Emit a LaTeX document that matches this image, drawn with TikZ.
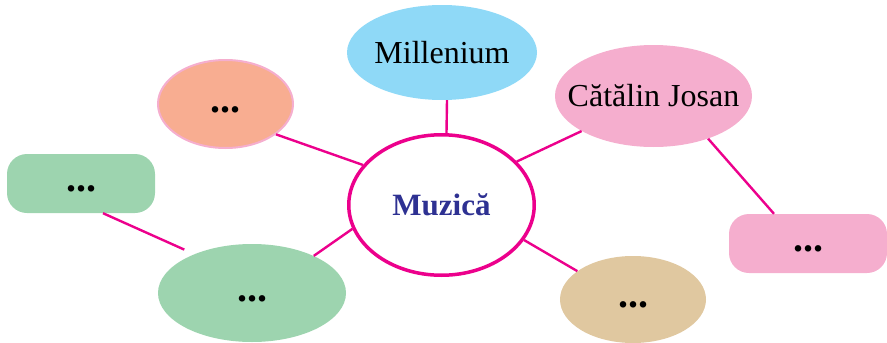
\documentclass[tikz,border=0pt]{standalone}
\usepackage{fontspec}
\setmainfont{Liberation Serif}
\usetikzlibrary{shapes.geometric}

\definecolor{linkmag}{HTML}{EC008C}
\definecolor{titleblue}{HTML}{2E3192}
\definecolor{skyfill}{HTML}{8FD9F7}
\definecolor{pinkfill}{HTML}{F5AECE}
\definecolor{orafill}{HTML}{F8AD91}
\definecolor{greenfill}{HTML}{9DD4AF}
\definecolor{tanfill}{HTML}{E0C8A0}

\begin{document}
\begin{tikzpicture}[
  x=1pt, y=-1pt,
  bubble/.style={ellipse, inner sep=0pt, inner xsep=-18pt, align=center, font=\fontsize{32}{36}\selectfont},
  rbox/.style={rectangle, rounded corners=20pt, inner sep=0pt, minimum width=148pt, minimum height=59pt},
  dots/.style={font=\fontsize{40}{40}\selectfont\bfseries, text height=16pt, text depth=0pt},
  link/.style={draw=linkmag, line width=2.4pt}
]
\useasboundingbox (0,0) rectangle (887,343);

\node[bubble, draw=linkmag, line width=3.5pt, fill=white, minimum width=185.5pt, minimum height=140.5pt,
      text=titleblue, font=\fontsize{31}{34}\selectfont\bfseries] (muz) at (441.5,205) {Muzică};
\node[bubble, fill=skyfill, minimum width=190pt, minimum height=95pt] (mil) at (442,52.5) {Millenium};
\node[bubble, fill=pinkfill, minimum width=197pt, minimum height=102pt] (cat) at (653.5,96) {Cătălin Josan};
\node[bubble, dots, fill=orafill, draw=pinkfill, line width=2pt, minimum width=135pt, minimum height=88pt] (ora) at (225.5,104) {...};
\node[rbox, dots, fill=greenfill] (grr) at (81,183.5) {...};
\node[bubble, dots, fill=greenfill, minimum width=188pt, minimum height=98pt] (gre) at (252,293) {...};
\node[bubble, dots, fill=tanfill, minimum width=146pt, minimum height=87pt] (tan) at (633,299.5) {...};
\node[rbox, dots, fill=pinkfill, minimum width=158pt] (pkr) at (808,243.5) {...};

% connectors
\draw[link] ([xshift=5pt]mil.south) -- ([xshift=5pt]muz.north);
\draw[link] (ora.-31.5) -- (muz.153);
\draw[link] (muz.30) -- (cat.-154.5);
\draw[link] (cat.-38) -- ([xshift=-34pt]pkr.north);
\draw[link, shorten >=11pt] ([xshift=22pt]grr.south) -- (gre.146.5);
\draw[link] (gre.31) -- (muz.-165.6);
\draw[link] (muz.-23.6) -- (tan.153.8);
\end{tikzpicture}
\end{document}
